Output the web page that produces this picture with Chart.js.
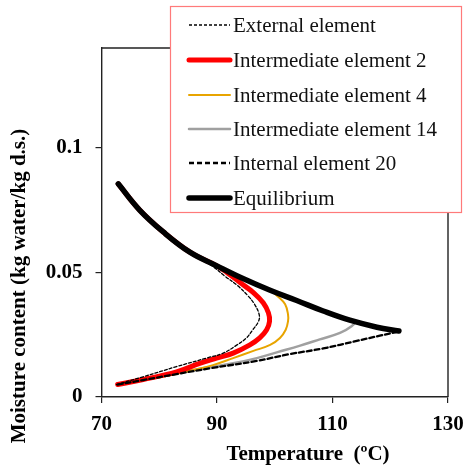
<!DOCTYPE html>
<html>
<head>
<meta charset="utf-8">
<script src="https://cdn.jsdelivr.net/npm/chart.js@4.4.1/dist/chart.umd.min.js"></script>
<style>
html,body{margin:0;padding:0;background:#fff;}
#wrap{width:464px;height:466px;}
</style>
</head>
<body>
<div id="wrap"><canvas id="c" width="464" height="466"></canvas></div>
<script>
// ---- Data ----
const xTicks = [70, 90, 110, 130];
const yTicks = [0, 0.05, 0.1];

const eqT = [72.9, 76.6, 80.7, 85.3, 89.9, 94.5, 99.2, 103.8, 108.4, 113.0, 117.7, 121.5];
const eqM = [0.0855, 0.0750, 0.0662, 0.0581, 0.0527, 0.0475, 0.0428, 0.0387, 0.0345, 0.0308, 0.0280, 0.0265];

const intT = [72.8, 77.2, 83.0, 88.8, 96.9, 102.6, 108.4, 114.2, 118.2, 121.5];
const intM = [0.0050, 0.0068, 0.0092, 0.0115, 0.0145, 0.0172, 0.0195, 0.0225, 0.0246, 0.0263];

const extT = [72.6, 77.2, 83.0, 88.5, 91.1, 93.4, 95.1, 96.2, 97.2, 97.3, 96.5, 95.4, 93.6, 91.3, 89.5, 87.6, 85.3, 80.7, 76.6, 72.9];
const extM = [0.0050, 0.0081, 0.0122, 0.0158, 0.0176, 0.0208, 0.0237, 0.0270, 0.0304, 0.0331, 0.0372, 0.0405, 0.0446, 0.0486, 0.0520, 0.0548, 0.0581, 0.0662, 0.0750, 0.0855];

const e2T = [72.8, 77.2, 83.0, 87.0, 89.9, 92.8, 95.7, 97.4, 98.6, 99.1, 98.9, 98.0, 96.3, 94.0, 91.7, 89.9, 85.3, 80.7, 76.6, 72.9];
const e2M = [0.0050, 0.0070, 0.0101, 0.0135, 0.0156, 0.0176, 0.0209, 0.0237, 0.0270, 0.0304, 0.0338, 0.0378, 0.0419, 0.0459, 0.0500, 0.0527, 0.0581, 0.0662, 0.0750, 0.0855];

const e4T = [72.8, 80.1, 85.9, 89.3, 92.8, 96.3, 99.2, 100.9, 101.9, 102.3, 102.3, 101.8, 100.6, 99.2, 94.5, 89.9, 85.3, 80.7, 76.6, 72.9];
const e4M = [0.0050, 0.0079, 0.0108, 0.0128, 0.0156, 0.0185, 0.0209, 0.0237, 0.0270, 0.0304, 0.0331, 0.0372, 0.0402, 0.0428, 0.0475, 0.0527, 0.0581, 0.0662, 0.0750, 0.0855];

const e14T = [72.8, 77.2, 83.0, 88.8, 92.8, 96.9, 100.5, 104.4, 107.8, 111.3, 113.3, 113.9, 113.0, 108.4, 103.8, 99.2, 94.5, 89.9, 85.3, 80.7, 76.6, 72.9];
const e14M = [0.0050, 0.0070, 0.0095, 0.0120, 0.0135, 0.0156, 0.0180, 0.0206, 0.0231, 0.0257, 0.0284, 0.0302, 0.0308, 0.0345, 0.0387, 0.0428, 0.0475, 0.0527, 0.0581, 0.0662, 0.0750, 0.0855];

const labels = ['External element', 'Intermediate element 2', 'Intermediate element 4', 'Intermediate element 14', 'Internal element 20', 'Equilibrium'];

function pts(xs, ys){ return xs.map((x,i)=>({x:x, y:ys[i]})); }

const SERIF = '"Liberation Serif", "Times New Roman", serif';

const styles = [
  {color:'#000000', width:1.3, dash:[3,2], order:2},
  {color:'#ff0000', width:5, dash:[], order:3},
  {color:'#e8a400', width:2, dash:[], order:4},
  {color:'#a0a0a0', width:2.5, dash:[], order:5},
  {color:'#000000', width:2.3, dash:[5,3], order:1},
  {color:'#000000', width:5.5, dash:[], order:0}
];
const series = [pts(extT,extM), pts(e2T,e2M), pts(e4T,e4M), pts(e14T,e14M), pts(intT,intM), pts(eqT,eqM)];

const datasets = series.map((d,i)=>({
  label: labels[i],
  data: d,
  showLine: true,
  borderColor: styles[i].color,
  backgroundColor: styles[i].color,
  borderWidth: styles[i].width,
  borderDash: styles[i].dash,
  borderCapStyle: 'round',
  borderJoinStyle: 'round',
  order: styles[i].order,
  pointRadius: 0,
  tension: 0.4,
  fill: false
}));

const frameAndText = {
  id: 'frameAndText',
  afterDraw(chart){
    const ctx = chart.ctx;
    const a = chart.chartArea;
    ctx.save();
    // top and right frame lines
    ctx.strokeStyle = '#222';
    ctx.lineWidth = 1.4;
    ctx.beginPath();
    ctx.moveTo(a.left, a.top);
    ctx.lineTo(a.right, a.top);
    ctx.lineTo(a.right, a.bottom);
    ctx.stroke();

    // axis titles
    ctx.fillStyle = '#000';
    ctx.font = 'bold 21px ' + SERIF;
    ctx.textAlign = 'center';
    ctx.textBaseline = 'middle';
    ctx.fillText('Temperature  (ºC)', 308, 455);
    ctx.save();
    ctx.translate(20, 286);
    ctx.rotate(-Math.PI/2);
    ctx.fillText('Moisture content (kg water/kg d.s.)', 0, 0);
    ctx.restore();

    // legend box
    const bx = 170.5, by = 6.5, bw = 291, bh = 206;
    ctx.fillStyle = '#fff';
    ctx.fillRect(bx, by, bw, bh);
    ctx.strokeStyle = '#ff7a7a';
    ctx.lineWidth = 1.2;
    ctx.strokeRect(bx, by, bw, bh);
    const rowY = [25, 60, 95, 129, 163, 198];
    ctx.font = '21px ' + SERIF;
    ctx.textAlign = 'left';
    ctx.textBaseline = 'middle';
    chart.data.datasets.forEach((ds, i)=>{
      const y = rowY[i];
      ctx.save();
      ctx.strokeStyle = ds.borderColor;
      ctx.lineWidth = ds.borderWidth;
      ctx.setLineDash(ds.borderDash);
      ctx.lineCap = ds.borderDash.length ? 'butt' : 'round';
      ctx.beginPath();
      ctx.moveTo(189, y);
      ctx.lineTo(230, y);
      ctx.stroke();
      ctx.restore();
      ctx.fillStyle = '#111';
      ctx.fillText(ds.label, 233, y + 1);
    });
    ctx.restore();
  }
};

new Chart(document.getElementById('c'), {
  type: 'scatter',
  data: { datasets: datasets },
  options: {
    responsive: false,
    animation: false,
    devicePixelRatio: 1,
    layout: { padding: { left: 0, right: 16, top: 48, bottom: 0 } },
    plugins: { legend: { display: false }, tooltip: { enabled: false } },
    scales: {
      x: {
        type: 'linear',
        min: 70, max: 130,
        afterFit(s){ s.height = 69; s.paddingRight = 0; s.paddingLeft = 0; },
        afterBuildTicks(s){ s.ticks = xTicks.map(v=>({value:v})); },
        border: { display: true, color: '#222', width: 1.4 },
        grid: { drawOnChartArea: false, drawTicks: true, tickLength: 6, color: '#222', lineWidth: 1.2 },
        ticks: {
          padding: 9,
          color: '#000',
          font: { family: SERIF, size: 21, weight: 'bold' },
          callback: v => String(v)
        },
        title: { display: false }
      },
      y: {
        type: 'linear',
        min: 0, max: 0.14,
        afterFit(s){ s.width = 101.5; },
        afterBuildTicks(s){ s.ticks = yTicks.map(v=>({value:v})); },
        border: { display: true, color: '#222', width: 1.4 },
        grid: { drawOnChartArea: false, drawTicks: true, tickLength: 6, color: '#222', lineWidth: 1.2 },
        ticks: {
          padding: 13,
          color: '#000',
          font: { family: SERIF, size: 21, weight: 'bold' },
          callback: v => String(v)
        },
        title: { display: false }
      }
    }
  },
  plugins: [frameAndText]
});
</script>
</body>
</html>
